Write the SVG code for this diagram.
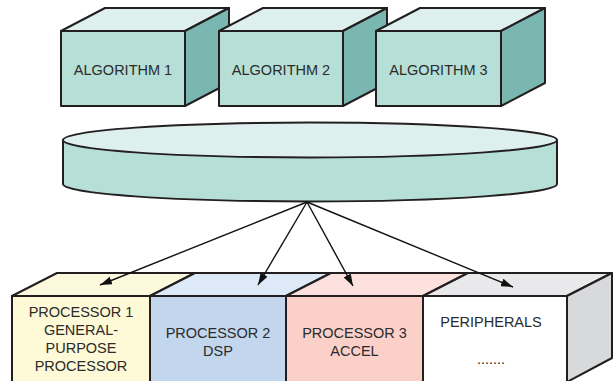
<svg xmlns="http://www.w3.org/2000/svg" width="615" height="381" viewBox="0 0 615 381">
  <defs>
    <style>
      .edge { stroke: #231f20; stroke-width: 2; stroke-linejoin: round; }
      .lbl { font-family: "Liberation Sans", Arial, sans-serif; font-size: 14.5px; fill: #2b2b2b; text-anchor: middle; }
      .algo-front { fill: #b6dfd7; }
      .algo-top { fill: #ddf0ee; }
      .algo-side { fill: #7ab7b0; }
      .conn { stroke: #111; stroke-width: 1.4; fill: none; marker-end: url(#arrow); }
    </style>
    <marker id="arrow" viewBox="0 0 12 8" refX="12" refY="4" markerWidth="12" markerHeight="8" markerUnits="userSpaceOnUse" orient="auto">
      <path d="M0,0 L12,4 L0,8 Z" fill="#111"/>
    </marker>
  </defs>

  <rect width="615" height="381" fill="#ffffff"/>

  <!-- Algorithm blocks -->
  <g id="algorithm1">
    <polygon class="algo-top edge" points="61,31 105,8 229,8 185,31"/>
    <polygon class="algo-side edge" points="185,31 229,8 229,83 185,106"/>
    <rect class="algo-front edge" x="61" y="31" width="124" height="75"/>
    <text class="lbl" x="123" y="75">ALGORITHM 1</text>
  </g>
  <g id="algorithm2">
    <polygon class="algo-top edge" points="219,31 263,8 387,8 343,31"/>
    <polygon class="algo-side edge" points="343,31 387,8 387,83 343,106"/>
    <rect class="algo-front edge" x="219" y="31" width="124" height="75"/>
    <text class="lbl" x="281" y="75">ALGORITHM 2</text>
  </g>
  <g id="algorithm3">
    <polygon class="algo-top edge" points="376,31 420,8 545,8 501,31"/>
    <polygon class="algo-side edge" points="501,31 545,8 545,83 501,106"/>
    <rect class="algo-front edge" x="376" y="31" width="125" height="75"/>
    <text class="lbl" x="438.5" y="75">ALGORITHM 3</text>
  </g>

  <!-- Shared platform disk -->
  <g id="platform">
    <path class="edge" fill="#b6dfd7" d="M63,140 L63,184 A247,17.5 0 0 0 557,184 L557,140 Z"/>
    <ellipse class="edge" cx="310" cy="140" rx="247" ry="17.5" fill="#ddf0ee"/>
  </g>

  <!-- Hardware row -->
  <g id="processor1">
    <polygon class="edge" fill="#fdf9dd" points="12,296 57,273 195,273 150,296"/>
    <rect class="edge" fill="#fef9d6" x="12" y="296" width="138" height="86"/>
    <text class="lbl" x="81" y="317">PROCESSOR 1</text>
    <text class="lbl" x="81" y="335">GENERAL-</text>
    <text class="lbl" x="81" y="352.5">PURPOSE</text>
    <text class="lbl" x="81" y="371">PROCESSOR</text>
  </g>
  <g id="processor2">
    <polygon class="edge" fill="#dde9f6" points="150,296 195,273 331,273 286,296"/>
    <rect class="edge" fill="#c2d6ed" x="150" y="296" width="136" height="86"/>
    <text class="lbl" x="218" y="338">PROCESSOR 2</text>
    <text class="lbl" x="218" y="356">DSP</text>
  </g>
  <g id="processor3">
    <polygon class="edge" fill="#fde1de" points="286,296 331,273 468,273 423,296"/>
    <rect class="edge" fill="#fbd0c9" x="286" y="296" width="137" height="86"/>
    <text class="lbl" x="354.5" y="338">PROCESSOR 3</text>
    <text class="lbl" x="354.5" y="356">ACCEL</text>
  </g>
  <g id="peripherals">
    <polygon class="edge" fill="#e9e9eb" points="423,296 468,273 612,273 567,296"/>
    <polygon class="edge" fill="#d8d9db" points="567,296 612,273 612,358 567,382"/>
    <rect class="edge" fill="#ffffff" x="423" y="296" width="144" height="86"/>
    <text class="lbl" x="491" y="327">PERIPHERALS</text>
    <text class="lbl" x="491" y="364">.......</text>
  </g>

  <!-- Connectors -->
  <g id="connectors">
    <line class="conn" x1="307" y1="202" x2="100" y2="285"/>
    <line class="conn" x1="307" y1="202" x2="258" y2="285"/>
    <line class="conn" x1="307" y1="202" x2="353" y2="286"/>
    <line class="conn" x1="307" y1="202" x2="513" y2="287"/>
  </g>
</svg>
